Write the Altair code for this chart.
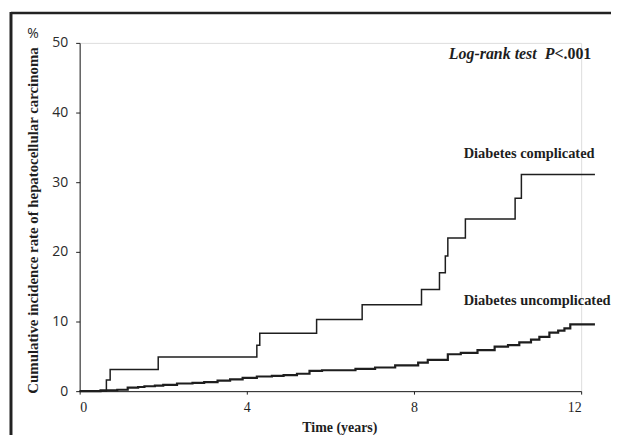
import altair as alt
import pandas as pd

# Diabetes complicated (step curve)
comp_t = [0, 0.64, 0.73, 1.88, 4.24, 4.31, 5.67, 6.76, 8.18, 8.61, 8.75, 8.81, 9.23, 10.42, 10.57, 12.33]
comp_v = [0, 1.6, 3.1, 4.9, 6.6, 8.3, 10.3, 12.4, 14.6, 17.0, 19.4, 22.0, 24.7, 27.7, 31.1, 31.1]

# Diabetes uncomplicated (step curve)
unc_t = [0, 0.5, 0.9, 1.15, 1.4, 1.55, 1.8, 2.0, 2.33, 2.7, 2.98, 3.3, 3.6, 3.9, 4.24, 4.6, 4.88,
         5.2, 5.5, 5.8, 6.6, 7.07, 7.55, 8.1, 8.33, 8.81, 9.12, 9.52, 9.93, 10.25, 10.52, 10.8,
         11.0, 11.24, 11.45, 11.6, 11.74, 12.33]
unc_v = [0, 0.1, 0.2, 0.5, 0.6, 0.7, 0.8, 0.9, 1.1, 1.2, 1.3, 1.5, 1.7, 1.9, 2.1, 2.2, 2.3,
         2.5, 2.9, 3.0, 3.2, 3.4, 3.7, 4.1, 4.5, 5.3, 5.5, 5.9, 6.4, 6.6, 7.0, 7.4,
         7.8, 8.4, 8.7, 9.0, 9.6, 9.6]

x_ticks = [0, 4, 8, 12]
y_ticks = [0, 10, 20, 30, 40, 50]

labels = ["Diabetes complicated", "Diabetes uncomplicated"]
label_x = [9.19, 9.19]
label_y = [34.1, 12.9]

INK = "#1e1e1e"
SERIF = "Liberation Serif"

comp = pd.DataFrame({"t": comp_t, "v": comp_v})
unc = pd.DataFrame({"t": unc_t, "v": unc_v})
lab = pd.DataFrame({"x": label_x, "y": label_y, "text": labels})
lr1 = pd.DataFrame({"x": [11.36], "y": [48.4], "text": ["Log-rank test\u00a0\u00a0P"]})
lr2 = pd.DataFrame({"x": [11.36], "y": [48.4], "text": ["<.001"]})

xscale = alt.Scale(domain=[0, 12], nice=False, zero=False)
yscale = alt.Scale(domain=[0, 50], nice=False)

xenc = alt.X("t:Q", scale=xscale, axis=alt.Axis(
    values=x_ticks, title="Time (years)", grid=False, domainColor=INK, tickColor=INK,
    tickSize=3, labelFont=SERIF, labelFontSize=14, labelColor=INK, labelPadding=6,
    titleFont=SERIF, titleFontWeight="bold", titleFontSize=14, titleColor=INK,
    titleX=261, titleY=37, titleBaseline="middle"))
yenc = alt.Y("v:Q", scale=yscale, axis=alt.Axis(
    values=y_ticks, title="Cumulative incidence rate of hepatocellular carcinoma",
    grid=False, domainColor=INK, tickColor=INK, tickSize=4,
    labelFont="Open Sans", labelFontSize=14, labelColor="#2a2a2a", labelPadding=8,
    titleFont=SERIF, titleFontWeight="bold", titleFontSize=14.9, titleColor=INK,
    titleX=-46, titleY=178, titleBaseline="middle", titleAlign="center", titleAngle=270))

line_c = alt.Chart(comp).mark_line(interpolate="step-after", color=INK, strokeWidth=1.5).encode(
    x=xenc, y=yenc)
line_u = alt.Chart(unc).mark_line(interpolate="step-after", color=INK, strokeWidth=2.2).encode(
    x=alt.X("t:Q", scale=xscale), y=alt.Y("v:Q", scale=yscale))

txt = alt.Chart(lab).mark_text(align="left", baseline="middle", font=SERIF, fontWeight="bold",
                               fontSize=14.5, color=INK).encode(
    x=alt.X("x:Q", scale=xscale), y=alt.Y("y:Q", scale=yscale), text="text:N")
t1 = alt.Chart(lr1).mark_text(align="right", baseline="middle", font=SERIF, fontWeight="bold",
                              fontStyle="italic", fontSize=16, color=INK).encode(
    x=alt.X("x:Q", scale=xscale), y=alt.Y("y:Q", scale=yscale), text="text:N")
t2 = alt.Chart(lr2).mark_text(align="left", baseline="middle", font=SERIF, fontWeight="bold",
                              fontSize=16, color=INK).encode(
    x=alt.X("x:Q", scale=xscale), y=alt.Y("y:Q", scale=yscale), text="text:N")

pct = alt.Chart(pd.DataFrame({"s": ["%"]})).mark_text(
    font="Open Sans", fontSize=14, color=INK, baseline="middle", align="center").encode(
    x=alt.value(-47), y=alt.value(-9), text="s:N")

frame_top = alt.Chart(pd.DataFrame({"a": [0]})).mark_rule(color="#222", strokeWidth=2.5).encode(
    x=alt.value(-69), x2=alt.value(540), y=alt.value(-30))
frame_left = alt.Chart(pd.DataFrame({"a": [0]})).mark_rule(color="#222", strokeWidth=3).encode(
    x=alt.value(-69), y=alt.value(-31), y2=alt.value(400))

chart = alt.layer(line_c, line_u, txt, t1, t2, pct, frame_top, frame_left).properties(
    width=504, height=350, autosize=alt.AutoSizeParams(type="none"),
    padding={"left": 72, "top": 34, "right": 30, "bottom": 43},
).configure_view(stroke=None).configure(background="white")

chart.save("out.html", embed_options={"renderer": "svg", "actions": False})
